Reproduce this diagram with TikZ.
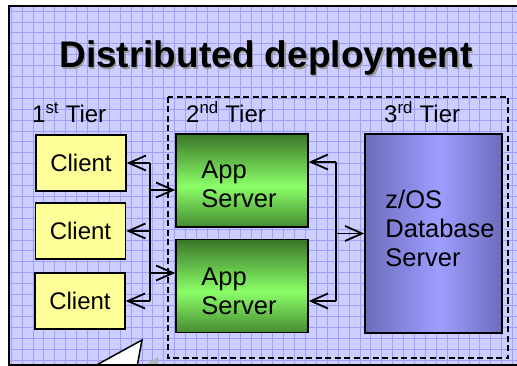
\documentclass[tikz,border=0pt]{standalone}
\usepackage{fontspec}
\setmainfont{Liberation Sans}
\usetikzlibrary{arrows.meta,calc}
\definecolor{panelblue}{RGB}{204,206,255}
\definecolor{gridblue}{RGB}{158,158,252}
\definecolor{clientyellow}{RGB}{255,255,153}
\definecolor{appdark}{RGB}{58,118,40}
\definecolor{applight}{RGB}{138,255,104}
\definecolor{dbdark}{RGB}{108,108,188}
\definecolor{dblight}{RGB}{158,158,255}
\pgfdeclareverticalshading{appshade}{100bp}{color(0bp)=(appdark!85!applight); color(25bp)=(appdark!85!applight); color(47bp)=(applight); color(75bp)=(appdark); color(100bp)=(appdark)}
\pgfdeclarehorizontalshading{dbshade}{100bp}{color(0bp)=(dbdark); color(25bp)=(dbdark); color(52bp)=(dblight); color(75bp)=(dbdark); color(100bp)=(dbdark)}

\begin{document}
\begin{tikzpicture}[x=1pt,y=-1pt]
      \tikzstyle{every node}=[font=\fontsize{24}{29}\selectfont]
      \tikzstyle{client}=[draw, line width=1.5pt, fill=clientyellow, minimum width=90pt, minimum height=56pt]
      \tikzstyle{appbox}=[draw, line width=1.5pt, shading=appshade, minimum width=132pt, minimum height=93pt]
      \tikzstyle{dbbox}=[draw, line width=1.5pt, shading=dbshade, minimum width=137pt, minimum height=199pt]
      \tikzstyle{boxtext}=[anchor=north west, inner sep=0pt, align=left, font=\fontsize{25.5}{29}\selectfont]
      \tikzstyle{tier}=[anchor=base west, inner sep=0pt]
      \tikzstyle{link}=[line width=1.8pt]
      \tikzstyle{arr}=[line width=1.8pt, -{Straight Barb[length=17pt, width=15pt]}]
      \useasboundingbox (0,0) rectangle (517,366);
      % Panel
      \fill[panelblue] (9,6) rectangle (517,364);
      \draw[gridblue, line width=0.4pt, step=10.9pt] (9,6) grid (517,364);
      % Callout pointer
      \fill[gray!60] (144,366) -- (158,357) -- (158,366) -- cycle;
      \filldraw[fill=white, line width=1.5pt] (93,367) -- (142,340) -- (137,367);
      \draw[line width=2pt] (517,6) -- (9,6) -- (9,364.5) -- (517,364.5);
      % Title
      \node[gray!80, anchor=base, font=\fontsize{37}{44}\selectfont\bfseries] (titleshadow) at (267.5,69.5) {Distributed deployment};
      \node[anchor=base, font=\fontsize{37}{44}\selectfont\bfseries] (title) at (266,68) {Distributed deployment};
      % Tiers 2 and 3
      \draw[line width=1.5pt, dash pattern=on 6pt off 3.5pt] (168,97) rectangle (508,358);
      \node[tier] (tier1) at (32,123) {1\textsuperscript{st} Tier};
      \node[tier] (tier2) at (186,123) {2\textsuperscript{nd} Tier};
      \node[tier] (tier3) at (384,123) {3\textsuperscript{rd} Tier};
      % Clients
      \node[client] (c1) at (81,163) {Client};
      \node[client] (c2) at (80.5,231) {Client};
      \node[client] (c3) at (80,301) {Client};
      % App servers
      \node[appbox] (as1) at (242,180.5) {};
      \node[boxtext] (as1text) at ($(as1.north west)+(26,28)$) {App\\Server};
      \node[appbox] (as2) at (242,286) {};
      \node[boxtext] (as2text) at ($(as2.north west)+(26,29)$) {App\\Server};
      % Database
      \node[dbbox] (db) at (433.5,233.5) {};
      \node[boxtext] (dbtext) at ($(db.north west)+(21,57)$) {z/OS\\Database\\Server};
      % Connect clients to app servers
      \coordinate (lbus) at (150,0);
      \coordinate (la1) at (150,190);
      \coordinate (la2) at (150,273);
      \draw[link] (c1.east -| lbus) -- (c3.east -| lbus);
      \draw[arr] (c1.east -| lbus) -- (c1.east);
      \draw[arr] (c2.east -| lbus) -- (c2.east);
      \draw[arr] (c3.east -| lbus) -- (c3.east);
      \draw[arr] (la1) -- (la1 -| as1.west);
      \draw[arr] (la2) -- (la2 -| as2.west);
      % Connect app servers to database
      \coordinate (rbus) at (336,0);
      \coordinate (ra1) at (336,162);
      \coordinate (ra2) at (336,301);
      \draw[link] (ra1) -- (ra2);
      \draw[arr] (ra1) -- (ra1 -| as1.east);
      \draw[arr] (ra2) -- (ra2 -| as2.east);
      \draw[arr] (db.west -| rbus) -- (db.west);
\end{tikzpicture}
\end{document}
